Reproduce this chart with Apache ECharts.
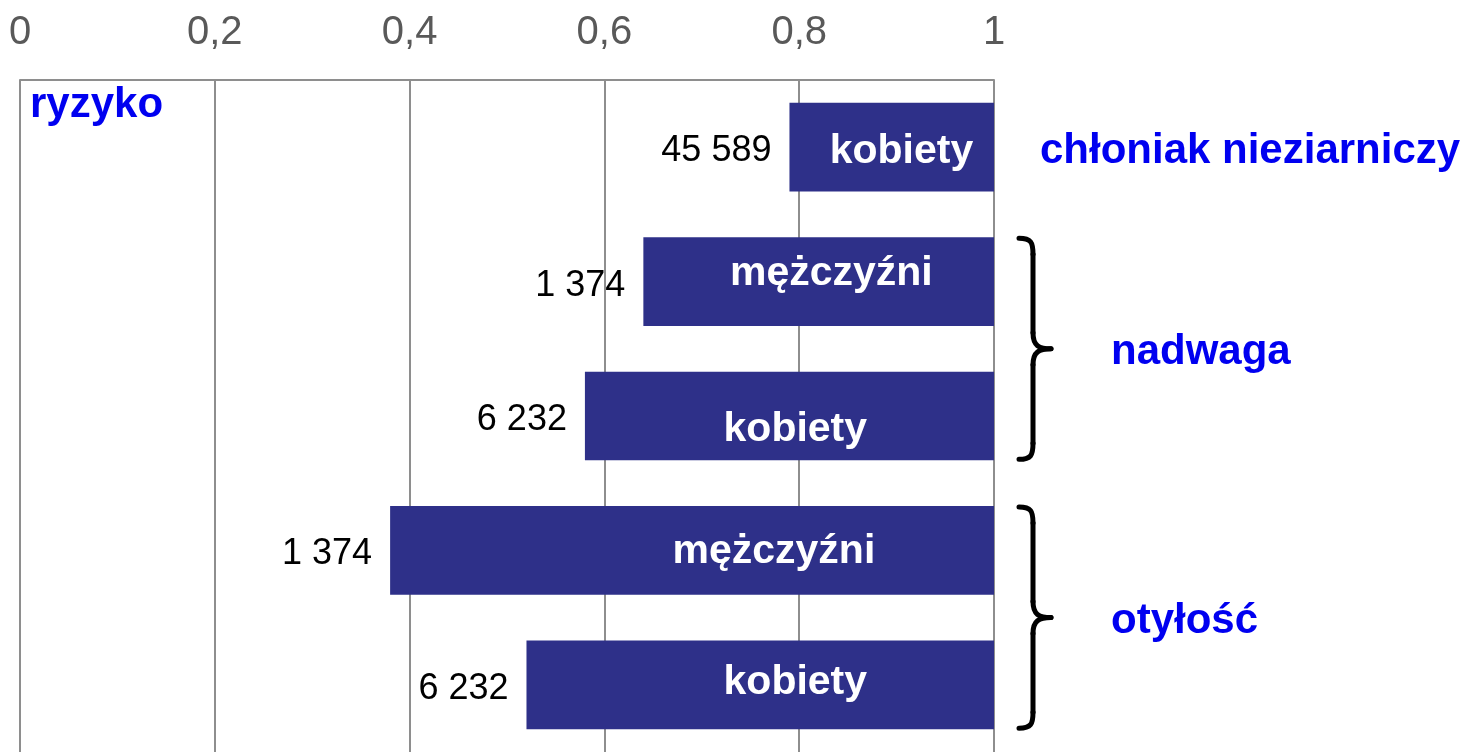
<!DOCTYPE html>
<html>
<head>
<meta charset="utf-8">
<script src="https://cdn.jsdelivr.net/npm/echarts@6/dist/echarts.min.js"></script>
<style>
  html, body { margin: 0; padding: 0; background: #ffffff; }
  #chart { width: 1468px; height: 752px; }
</style>
</head>
<body>
<div id="chart"></div>
<script>
// Risk per group (bars run from the value up to 1)
const categories = [
  'chłoniak nieziarniczy – kobiety',
  'nadwaga – mężczyźni',
  'nadwaga – kobiety',
  'otyłość – mężczyźni',
  'otyłość – kobiety'
];
const sexLabels = ['kobiety', 'mężczyźni', 'kobiety', 'mężczyźni', 'kobiety'];
const riskValues = [0.79, 0.64, 0.58, 0.38, 0.52];
const caseCounts = ['45 589', '1 374', '6 232', '1 374', '6 232'];

// Brackets on the right: name, first and last row they cover
const groupNames = ['chłoniak nieziarniczy', 'nadwaga', 'otyłość'];
const groupFirst = [0, 1, 3];
const groupLast = [0, 2, 4];

// Where the sex label sits inside each bar: [axis value of its centre, vertical shift in px]
const innerLabelPlace = [[0.905, 0], [0.833, -12], [0.796, 10], [0.774, -3], [0.796, -6]];

const FONT = '"Liberation Sans", Arial, Helvetica, sans-serif';
const BAR_COLOR = '#2e3089';
const BLUE = '#0000f0';
const GRID_GRAY = '#8e8e8e';
const TEXT_DY = 4; // baseline correction for vertically centred text

const chart = echarts.init(document.getElementById('chart'), null, { renderer: 'canvas' });

function renderBar(params, api) {
  const v = api.value(0);
  const i = api.value(1);
  const start = api.coord([v, i]);
  const end = api.coord([1, i]);
  const band = api.size([0, 1])[1];
  const h = band * 0.66;
  const place = innerLabelPlace[i];
  const inner = api.coord([place[0], i]);
  return {
    type: 'group',
    children: [
      {
        type: 'rect',
        shape: { x: start[0], y: start[1] - h / 2, width: end[0] - start[0], height: h },
        style: { fill: BAR_COLOR }
      },
      {
        type: 'text',
        x: start[0] - 18,
        y: start[1] + TEXT_DY,
        style: {
          text: caseCounts[i], fill: '#000000',
          font: '36px ' + FONT, align: 'right', verticalAlign: 'middle'
        }
      },
      {
        type: 'text',
        x: inner[0],
        y: start[1] + place[1] + TEXT_DY,
        style: {
          text: sexLabels[i], fill: '#ffffff',
          font: 'bold 41px ' + FONT, align: 'center', verticalAlign: 'middle'
        }
      }
    ]
  };
}

function renderGroup(params, api) {
  const first = api.value(1);
  const last = api.value(2);
  const name = groupNames[params.dataIndex];
  const a = api.coord([1, first]);
  const b = api.coord([1, last]);
  const h = api.size([0, 1])[1] * 0.66;
  const top = a[1] - h / 2 + 1;
  const bottom = b[1] + h / 2 - 1;
  const mid = (top + bottom) / 2;
  const right = a[0];
  if (first === last) {
    return {
      type: 'text', x: right + 46, y: mid + TEXT_DY,
      style: { text: name, fill: BLUE, font: 'bold 42px ' + FONT, align: 'left', verticalAlign: 'middle' }
    };
  }
  const x0 = right + 25, xs = right + 39, xm = right + 57, r = 16;
  const stroke = { stroke: '#000000', lineWidth: 5, fill: null, lineCap: 'round' };
  return {
    type: 'group',
    children: [
      { type: 'bezierCurve', shape: { x1: x0, y1: top, cpx1: xs - 2, cpy1: top, cpx2: xs, cpy2: top + 4, x2: xs, y2: top + r }, style: stroke },
      { type: 'line', shape: { x1: xs, y1: top + r, x2: xs, y2: mid - r }, style: stroke },
      { type: 'bezierCurve', shape: { x1: xs, y1: mid - r, cpx1: xs, cpy1: mid - 3, cpx2: xs + 6, cpy2: mid, x2: xm, y2: mid }, style: stroke },
      { type: 'bezierCurve', shape: { x1: xm, y1: mid, cpx1: xs + 6, cpy1: mid, cpx2: xs, cpy2: mid + 3, x2: xs, y2: mid + r }, style: stroke },
      { type: 'line', shape: { x1: xs, y1: mid + r, x2: xs, y2: bottom - r }, style: stroke },
      { type: 'bezierCurve', shape: { x1: xs, y1: bottom - r, cpx1: xs, cpy1: bottom - 4, cpx2: xs - 2, cpy2: bottom, x2: x0, y2: bottom }, style: stroke },
      {
        type: 'text', x: right + 117, y: mid + TEXT_DY,
        style: { text: name, fill: BLUE, font: 'bold 42px ' + FONT, align: 'left', verticalAlign: 'middle' }
      }
    ]
  };
}

chart.setOption({
  animation: false,
  backgroundColor: '#ffffff',
  grid: { left: 20, right: 474, top: 80, height: 675, containLabel: false },
  xAxis: {
    type: 'value',
    position: 'top',
    min: 0,
    max: 1,
    interval: 0.2,
    axisLine: { show: true, lineStyle: { color: GRID_GRAY, width: 2 } },
    axisTick: { show: false },
    axisLabel: {
      fontFamily: FONT,
      fontSize: 40,
      color: '#595959',
      margin: 27,
      formatter: function (v) { return String(Math.round(v * 10) / 10).replace('.', ','); }
    },
    splitLine: { show: true, lineStyle: { color: GRID_GRAY, width: 2 } }
  },
  yAxis: {
    type: 'category',
    data: categories,
    inverse: true,
    axisLine: { show: false },
    axisTick: { show: false },
    axisLabel: { show: false },
    splitLine: { show: false }
  },
  graphic: [
    {
      type: 'text', x: 30, y: 101 + TEXT_DY,
      style: { text: 'ryzyko', fill: BLUE, font: 'bold 42px ' + FONT, align: 'left', verticalAlign: 'middle' }
    }
  ],
  series: [
    {
      name: 'ryzyko',
      type: 'custom',
      renderItem: renderBar,
      encode: { x: 0, y: 1 },
      data: riskValues.map(function (v, i) { return [v, i]; }),
      z: 3
    },
    {
      name: 'grupy',
      type: 'custom',
      renderItem: renderGroup,
      encode: { x: 0, y: 1 },
      data: groupNames.map(function (n, k) { return [1, groupFirst[k], groupLast[k]]; }),
      z: 3
    }
  ]
});
</script>
</body>
</html>
